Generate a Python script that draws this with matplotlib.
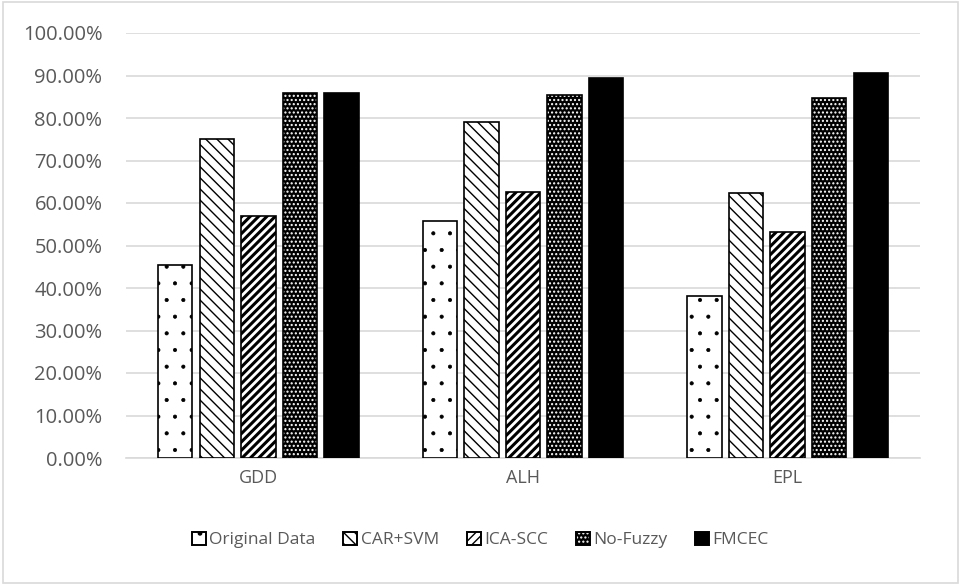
import numpy as np
import matplotlib
matplotlib.use("Agg")
import matplotlib.pyplot as plt
from matplotlib.patches import Rectangle, Patch
from matplotlib.legend_handler import HandlerTuple
from matplotlib.ticker import FuncFormatter

plt.rcParams['font.family'] = ['Open Sans', 'DejaVu Sans']

categories = ['GDD', 'ALH', 'EPL']
methods = ['Original Data', 'CAR+SVM', 'ICA-SCC', 'No-Fuzzy', 'FMCEC']
original_data = [45.4, 55.8, 38.1]
car_svm = [75.1, 79.0, 62.4]
ica_scc = [56.9, 62.7, 53.1]
no_fuzzy = [85.9, 85.4, 84.6]
fmcec = [86.0, 89.5, 90.6]
series = [original_data, car_svm, ica_scc, no_fuzzy, fmcec]

txt = '#595959'
grid = '#d9d9d9'

fig = plt.figure(figsize=(9.61, 5.85), dpi=100)
ax = fig.add_axes([126 / 961, 127 / 585, (920 - 126) / 961, (458 - 33) / 585])

x = np.arange(len(categories))
width = 0.13
pitch = 0.157
offsets = (np.arange(len(methods)) - 2) * pitch

styles = [
    dict(facecolor='white', edgecolor='black', hatch='.', hlw=0.5),
    dict(facecolor='white', edgecolor='black', hatch='\\\\\\', hlw=1.0),
    dict(facecolor='white', edgecolor='black', hatch='////', hlw=2.2),
    dict(facecolor='black', edgecolor='white', hatch='....', hlw=1.0),
    dict(facecolor='black', edgecolor='black', hatch=None, hlw=1.0),
]


def hatch_lw(artists, lw):
    for a in artists:
        if hasattr(a, 'set_hatch_linewidth'):
            a.set_hatch_linewidth(lw)


for vals, off, st in zip(series, offsets, styles):
    bars = ax.bar(x + off, vals, width, facecolor=st['facecolor'],
                  edgecolor=st['edgecolor'], hatch=st['hatch'], linewidth=0, zorder=3)
    hatch_lw(bars, st['hlw'])
    ax.bar(x + off, vals, width, fill=False, edgecolor='black', linewidth=1.2, zorder=4)

ax.set_xlim(-0.5, 2.5)
ax.set_ylim(0, 100)
ax.set_yticks(np.arange(0, 101, 10))
ax.yaxis.set_major_formatter(FuncFormatter(lambda v, p: f'{v:.2f}%'))
ax.set_xticks(x)
ax.set_xticklabels(categories)
ax.grid(axis='y', color=grid, linewidth=1.2, zorder=0)
for s in ['top', 'right', 'left']:
    ax.spines[s].set_visible(False)
ax.spines['bottom'].set_color(grid)
ax.spines['bottom'].set_linewidth(1.2)
ax.tick_params(axis='both', length=0, labelsize=14.5, labelcolor=txt)
ax.tick_params(axis='y', pad=17)
ax.tick_params(axis='x', labelsize=13, pad=8)

handles = []
for m, st in zip(methods, styles):
    fillp = Patch(facecolor=st['facecolor'], edgecolor=st['edgecolor'],
                  hatch=st['hatch'], linewidth=0)
    hatch_lw([fillp], min(st['hlw'], 1.2))
    edgep = Patch(fill=False, edgecolor='black', linewidth=1.4)
    handles.append((fillp, edgep))
leg = fig.legend(handles=handles, labels=methods, loc='center',
                 bbox_to_anchor=(0.5, 1 - 540 / 585),
                 handler_map={tuple: HandlerTuple(ndivide=1, pad=0)},
                 ncol=5, frameon=False, fontsize=12.5, handlelength=0.8, handleheight=0.8,
                 handletextpad=0.2, columnspacing=1.6)
for t in leg.get_texts():
    t.set_color(txt)

fig.patches.append(Rectangle((0.003, 0.004), 0.994, 0.992, transform=fig.transFigure,
                             fill=False, edgecolor=grid, linewidth=1.2))

fig.savefig('out.png', dpi=100)
